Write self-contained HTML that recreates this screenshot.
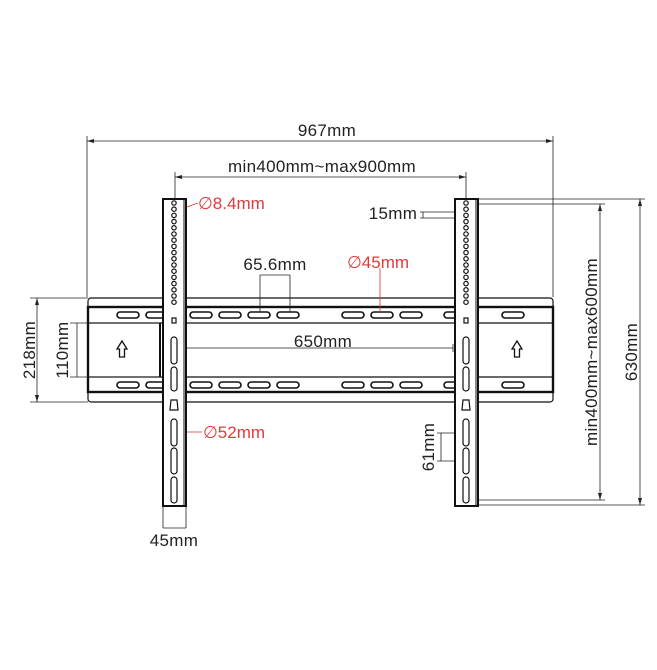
<!DOCTYPE html>
<html><head><meta charset="utf-8"><style>
html,body{margin:0;padding:0;background:#fff;width:657px;height:670px;overflow:hidden}
svg text{font-family:"Liberation Sans","DejaVu Sans",sans-serif}
</style></head><body>
<svg width="657" height="670" viewBox="0 0 657 670" xmlns="http://www.w3.org/2000/svg">
<defs>
<g id="slotH"><rect x="0" y="-3" width="22" height="6" rx="3" fill="#fff" stroke="#111" stroke-width="1.6"/></g>
</defs>
<g fill="none" stroke="#222" stroke-width="0.8">
<line x1="87" y1="136" x2="87" y2="297"/><line x1="553" y1="136" x2="553" y2="297"/>
<line x1="87" y1="141" x2="553" y2="141"/>
<line x1="175" y1="172" x2="175" y2="199"/><line x1="466" y1="172" x2="466" y2="199"/>
<line x1="175" y1="177" x2="466" y2="177"/>
<line x1="477" y1="199" x2="645" y2="199"/><line x1="477" y1="505" x2="645" y2="505"/>
<line x1="640" y1="199" x2="640" y2="505"/>
<line x1="466" y1="204" x2="605" y2="204"/><line x1="466" y1="500" x2="605" y2="500"/>
<line x1="600" y1="204" x2="600" y2="500"/>
<line x1="30" y1="298" x2="88" y2="298"/><line x1="30" y1="402" x2="88" y2="402"/>
<line x1="37" y1="298" x2="37" y2="402"/>
<line x1="163" y1="506" x2="163" y2="528"/><line x1="186" y1="506" x2="186" y2="528"/><line x1="163" y1="528" x2="186" y2="528"/>
<line x1="420" y1="212" x2="466" y2="212"/><line x1="420" y1="218" x2="466" y2="218"/><line x1="423" y1="212" x2="423" y2="218"/>
<line x1="437" y1="433" x2="466" y2="433"/><line x1="437" y1="461" x2="466" y2="461"/><line x1="441" y1="433" x2="441" y2="461"/>
<line x1="260" y1="275" x2="260" y2="298"/><line x1="290" y1="275" x2="290" y2="298"/><line x1="260" y1="275" x2="290" y2="275"/>
</g>
<g fill="#222">
<polygon points="87,141 94,139 94,143"/><polygon points="553,141 546,139 546,143"/>
<polygon points="175,177 182,175 182,179"/><polygon points="466,177 459,175 459,179"/>
<polygon points="640,199 638,206 642,206"/><polygon points="640,505 638,498 642,498"/>
<polygon points="600,204 598,211 602,211"/><polygon points="600,500 598,493 602,493"/>
<polygon points="37,298 35,305 39,305"/><polygon points="37,402 35,395 39,395"/>
</g>
<!-- plate -->
<rect x="88" y="298" width="465" height="104" rx="3" fill="#fff" stroke="#111" stroke-width="1.2"/>
<rect x="88" y="307" width="465" height="85" fill="#fff" stroke="#111" stroke-width="2.4"/>
<line x1="88" y1="323" x2="553" y2="323" stroke="#111" stroke-width="1.2"/>
<line x1="88" y1="377" x2="553" y2="377" stroke="#111" stroke-width="1.2"/>
<line x1="160" y1="323" x2="160" y2="377" stroke="#111" stroke-width="2"/>
<line x1="478" y1="323" x2="478" y2="377" stroke="#111" stroke-width="2"/>
<g>
<use href="#slotH" x="117" y="315"/><use href="#slotH" x="146" y="315"/><use href="#slotH" x="190" y="315"/><use href="#slotH" x="219" y="315"/><use href="#slotH" x="248" y="315"/><use href="#slotH" x="277" y="315"/><use href="#slotH" x="342" y="315"/><use href="#slotH" x="371" y="315"/><use href="#slotH" x="400" y="315"/><use href="#slotH" x="444" y="315"/><use href="#slotH" x="502" y="315"/>
<use href="#slotH" x="117" y="385"/><use href="#slotH" x="146" y="385"/><use href="#slotH" x="190" y="385"/><use href="#slotH" x="219" y="385"/><use href="#slotH" x="248" y="315" opacity="0"/><use href="#slotH" x="248" y="385"/><use href="#slotH" x="277" y="385"/><use href="#slotH" x="342" y="385"/><use href="#slotH" x="371" y="385"/><use href="#slotH" x="400" y="385"/><use href="#slotH" x="444" y="385"/><use href="#slotH" x="502" y="385"/>
</g>
<!-- dims over plate -->
<g fill="none" stroke="#222" stroke-width="0.8">
<line x1="70" y1="323" x2="160" y2="323"/><line x1="70" y1="377" x2="160" y2="377"/>
<line x1="77" y1="323" x2="77" y2="377"/>
<line x1="186" y1="348" x2="453" y2="348"/><line x1="186" y1="344" x2="186" y2="352"/><line x1="453" y1="344" x2="453" y2="352"/>
<line x1="260" y1="298" x2="260" y2="312"/><line x1="290" y1="298" x2="290" y2="312"/>
</g>
<g stroke="#d33" stroke-width="0.8"><line x1="176" y1="211" x2="198" y2="203"/><line x1="380" y1="268" x2="380" y2="312"/><line x1="178" y1="432" x2="202" y2="432"/></g>
<g fill="#fff" stroke="#111" stroke-width="1.3">
<polygon points="122,341 127,349 124.5,349 124.5,357 119.5,357 119.5,349 117,349"/>
<polygon points="517,341 522,349 519.5,349 519.5,357 514.5,357 514.5,349 512,349"/>
</g>
<g id="up">
<rect x="163" y="199" width="23" height="307" fill="#fff" stroke="#111" stroke-width="2"/>
<line x1="184" y1="199" x2="184" y2="506" stroke="#111" stroke-width="1"/>
<g fill="#fff" stroke="#111" stroke-width="1.2">
<circle cx="174" cy="203" r="2.2"/><circle cx="174" cy="209.2" r="2.2"/><circle cx="174" cy="215.4" r="2.2"/><circle cx="174" cy="221.6" r="2.2"/><circle cx="174" cy="227.8" r="2.2"/><circle cx="174" cy="234" r="2.2"/><circle cx="174" cy="240.2" r="2.2"/><circle cx="174" cy="246.4" r="2.2"/><circle cx="174" cy="252.6" r="2.2"/><circle cx="174" cy="258.8" r="2.2"/><circle cx="174" cy="265" r="2.2"/><circle cx="174" cy="271.2" r="2.2"/><circle cx="174" cy="277.4" r="2.2"/><circle cx="174" cy="283.6" r="2.2"/><circle cx="174" cy="289.8" r="2.2"/><circle cx="174" cy="296" r="2.2"/><circle cx="174" cy="302.2" r="2.2"/>
<rect x="172" y="318" width="4" height="5" />
<rect x="171" y="337" width="6" height="27" rx="3"/><rect x="171" y="367" width="6" height="24" rx="3"/>
<polygon points="170,410 178,410 177,400 171,400"/>
<rect x="171" y="419" width="6" height="27" rx="3"/><rect x="171" y="448" width="6" height="26" rx="3"/><rect x="171" y="477" width="6" height="26" rx="3"/>
</g>
</g>
<use href="#up" x="292" y="0"/>
<g font-size="17" fill="#222" letter-spacing="0.3">
<text x="327" y="136" text-anchor="middle">967mm</text>
<text x="322" y="172" text-anchor="middle">min400mm~max900mm</text>
<text x="275" y="270" text-anchor="middle">65.6mm</text>
<text x="323" y="347" text-anchor="middle">650mm</text>
<text x="393" y="219" text-anchor="middle">15mm</text>
<text x="174" y="546" text-anchor="middle">45mm</text>
<text transform="translate(35,350) rotate(-90)" text-anchor="middle">218mm</text>
<text transform="translate(68,350) rotate(-90)" text-anchor="middle">110mm</text>
<text transform="translate(434,447) rotate(-90)" text-anchor="middle">61mm</text>
<text transform="translate(597,352) rotate(-90)" text-anchor="middle">min400mm~max600mm</text>
<text transform="translate(637,352) rotate(-90)" text-anchor="middle">630mm</text>
</g>
<g font-size="17" fill="#e03a3a">
<text x="198" y="209">∅8.4mm</text>
<text x="347" y="268">∅45mm</text>
<text x="203" y="438">∅52mm</text>
</g>
</svg>
</body></html>
